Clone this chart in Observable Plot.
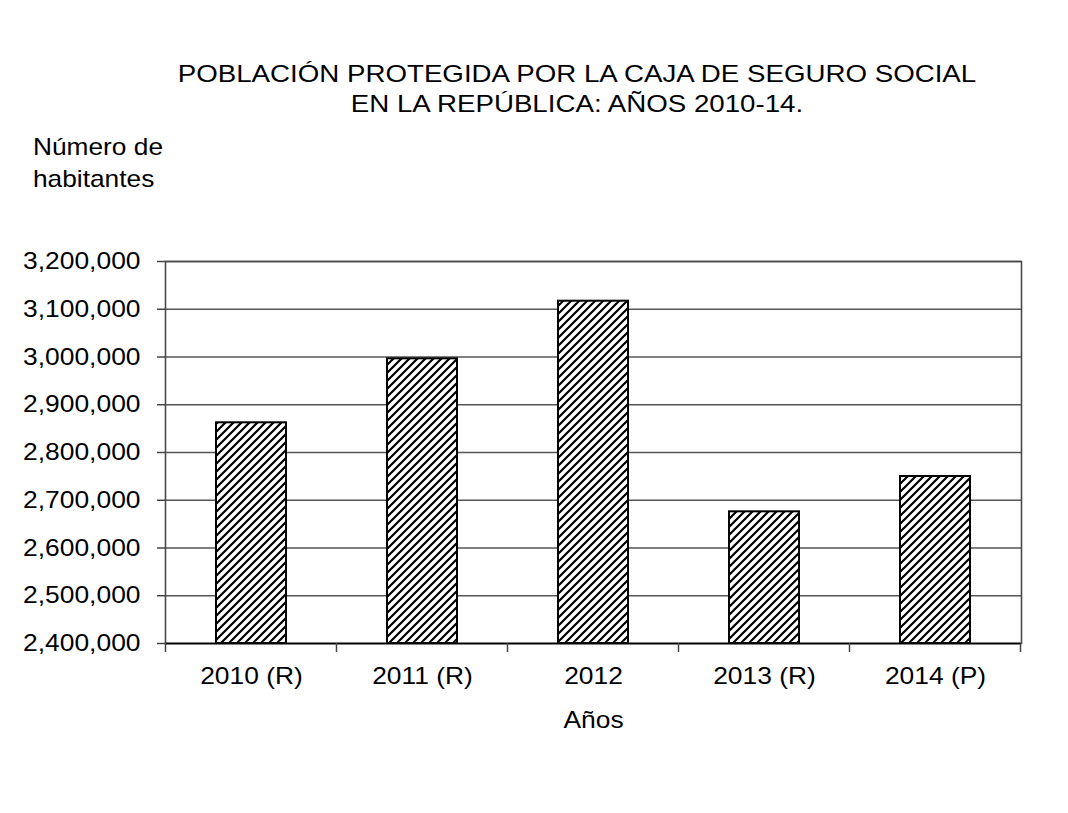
<!DOCTYPE html>
<html><head><meta charset="utf-8">
<script src="https://cdn.jsdelivr.net/npm/d3@7"></script>
<script src="https://cdn.jsdelivr.net/npm/@observablehq/plot@0.6"></script>
<style>
body{margin:0;background:#fff;font-family:"Liberation Sans",Arial,sans-serif;color:#000}
#wrap{position:relative;width:1068px;height:813px;overflow:hidden;background:#fff}
#head{position:relative;height:200px}
.title{position:absolute;left:77px;width:1000px;text-align:center;font-size:24.5px;line-height:30px;top:59px;transform:scaleX(1.13);transform-origin:500px 0;white-space:nowrap}
.ylab{position:absolute;left:33px;top:131px;font-size:24px;line-height:31.5px;transform:scaleX(1.095);transform-origin:0 0;white-space:nowrap}
#chart svg{display:block}
</style></head>
<body><div id="wrap"><div id="head"><div class="title">POBLACIÓN PROTEGIDA POR LA CAJA DE SEGURO SOCIAL<br>EN LA REPÚBLICA: AÑOS 2010-14.</div><div class="ylab">Número de<br>habitantes</div></div><div id="chart"></div></div>
<script>
const years = ["2010 (R)", "2011 (R)", "2012", "2013 (R)", "2014 (P)"];
const values = [2862200, 2996200, 3116900, 2675800, 2749700];
const yTicks = [2400000, 2500000, 2600000, 2700000, 2800000, 2900000, 3000000, 3100000, 3200000];
const xLabel = "Años";

const data = years.map((year, i) => ({year, value: values[i]}));

function hatchDefs() {
  const g = d3.create("svg:g");
  const p = g.append("defs").append("pattern")
    .attr("id", "hatch").attr("patternUnits", "userSpaceOnUse")
    .attr("width", 8).attr("height", 8);
  p.append("rect").attr("width", 8).attr("height", 8).attr("fill", "#fff");
  p.append("path").attr("d", "M-2,2L2,-2M0,8L8,0M6,10L10,6")
    .attr("stroke", "#000").attr("stroke-width", 2.2);
  return g.node();
}

function xBoundaryTicks(index, scales, values, dims) {
  const x = scales.x;
  const bw = typeof x.bandwidth === "function" ? x.bandwidth() : x.bandwidth;
  const centers = years.map(y => x(y) + bw / 2);
  const step = centers[1] - centers[0];
  const bounds = [centers[0] - step / 2, ...centers.map(c => c + step / 2)];
  const y0 = dims.height - dims.marginBottom;
  const g = d3.create("svg:g").attr("stroke", "#444").attr("stroke-width", 1.5);
  g.selectAll("line").data(bounds).join("line")
    .attr("x1", d => d).attr("x2", d => d).attr("y1", y0).attr("y2", y0 + 9);
  return g.node();
}

const chart = Plot.plot({
  width: 1068,
  height: 560,
  marginLeft: 165,
  marginRight: 47,
  marginTop: 61,
  marginBottom: 117,
  style: {fontFamily: "'Liberation Sans', Arial, sans-serif", fontSize: "24px", color: "#000", background: "#fff", overflow: "visible"},
  x: {domain: years, paddingInner: 0.59, paddingOuter: 0.295},
  y: {domain: [yTicks[0], yTicks[yTicks.length - 1]]},
  marks: [
    hatchDefs,
    Plot.gridY(yTicks, {stroke: "#555", strokeOpacity: 1, strokeWidth: 1.5}),
    Plot.barY(data, {x: "year", y1: yTicks[0], y2: "value", fill: "url(#hatch)", stroke: "#000", strokeWidth: 2}),
    Plot.frame({stroke: "#4a4a4a", strokeWidth: 1.6}),
    Plot.ruleY([yTicks[0]], {stroke: "#000", strokeWidth: 1.6}),
    Plot.axisY(yTicks, {tickFormat: d3.format(","), tickSize: 8, tickPadding: 17, stroke: "#444", strokeWidth: 1.5, fill: "#000", fontSize: 24, label: null}),
    Plot.axisX({tickSize: 0, tickPadding: 23, fill: "#000", fontSize: 24, label: null}),
    xBoundaryTicks,
    Plot.text([xLabel], {frameAnchor: "bottom", dy: 84, lineAnchor: "bottom", fontSize: 24, fill: "#000"})
  ]
});
document.getElementById("chart").appendChild(chart);

chart.querySelectorAll("text").forEach(t => {
  if (!t.textContent.trim()) return;
  const len = t.getComputedTextLength();
  t.setAttribute("textLength", (len * 1.1).toFixed(2));
  t.setAttribute("lengthAdjust", "spacingAndGlyphs");
});
</script>
</body></html>
